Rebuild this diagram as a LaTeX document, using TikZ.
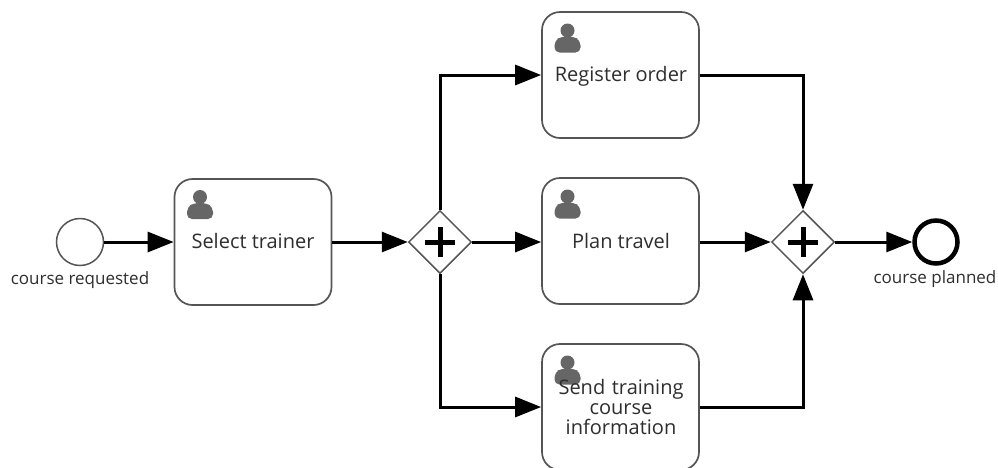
\documentclass[tikz,border=0pt]{standalone}
\usepackage{fontspec}
\setmainfont{Open Sans}
\usetikzlibrary{arrows.meta,shapes.geometric,calc}
\definecolor{edge}{HTML}{555555}
\definecolor{icon}{HTML}{666666}
\definecolor{ink}{HTML}{2E2E2E}
\tikzset{
  x=1pt,y=-1pt,
  task/.style={draw=edge,line width=1.7pt,rounded corners=18pt,minimum width=157pt,minimum height=126pt,inner sep=0pt,fill=white},
  tasklabel/.style={text=ink,font=\fontsize{20}{20}\selectfont,align=center,inner sep=0pt},
  evlabel/.style={text=ink,font=\fontsize{17}{19}\selectfont,inner sep=0pt},
  startev/.style={circle,draw=edge,line width=1.5pt,minimum size=47pt,inner sep=0pt,fill=white},
  endev/.style={circle,draw=black,line width=4.5pt,minimum size=43pt,inner sep=0pt,fill=white},
  gate/.style={diamond,draw=edge,line width=1.5pt,minimum width=63pt,minimum height=63pt,inner sep=0pt,fill=white},
  plusbar/.style={draw=black,line width=5pt},
  flow/.style={draw=black,line width=3pt,-{Triangle[length=26pt,width=20pt]}},
  person/.pic={
    \fill[icon] (0,-8) circle (7);
    \fill[icon,rounded corners=5pt] (-13,14) -- (-13,2) -- (-6,-2) -- (6,-2) -- (13,2) -- (13,14) -- cycle;
  }
}
\begin{document}
\begin{tikzpicture}
\useasboundingbox (0,0) rectangle (998,467);
\fill[white] (0,0) rectangle (998,467);
\node[startev] (start) at (80,242) {};
\node[evlabel,anchor=center] (startl) at (80,280) {course requested};
\node[task] (select) at (253,242) {};
\node[task] (reg) at (620.5,75) {};
\node[task] (plan) at (620.5,241) {};
\node[task] (send) at (620.5,407) {};
\node[gate] (g1) at (440,242) {};
\node[gate] (g2) at (803,242) {};
\node[endev] (end) at (936,242) {};
\node[evlabel] (endl) at (935,279) {course planned};
\pic at (200,205) {person};
\pic at (567.5,38.5) {person};
\pic at (567.5,204.5) {person};
\pic at (567.5,370.5) {person};
\node[tasklabel] (selectl) at (253,241) {Select trainer};
\node[tasklabel] (regl) at (621,76) {Register order};
\node[tasklabel] (planl) at (621,241) {Plan travel};
\node[tasklabel,text width=150pt] (sendl) at (621,407) {Send training\\course\\information};
\draw[plusbar] ([xshift=-15]g1.center) -- ([xshift=15]g1.center);
\draw[plusbar] ([yshift=-15]g1.center) -- ([yshift=15]g1.center);
\draw[plusbar] ([xshift=-15]g2.center) -- ([xshift=15]g2.center);
\draw[plusbar] ([yshift=-15]g2.center) -- ([yshift=15]g2.center);
\draw[flow] (start.east) -- (select.west);
\draw[flow] (select.east) -- (g1.west);
\draw[flow] (g1.north) |- (reg.west);
\draw[flow] (g1.east) -- (g1.east -| plan.west);
\draw[flow] (g1.south) |- (send.west);
\draw[flow] (reg.east) -| (g2.north);
\draw[flow] (plan.east |- g2.west) -- (g2.west);
\draw[flow] (send.east) -| (g2.south);
\draw[flow] (g2.east) -- (end.west);
\end{tikzpicture}
\end{document}
